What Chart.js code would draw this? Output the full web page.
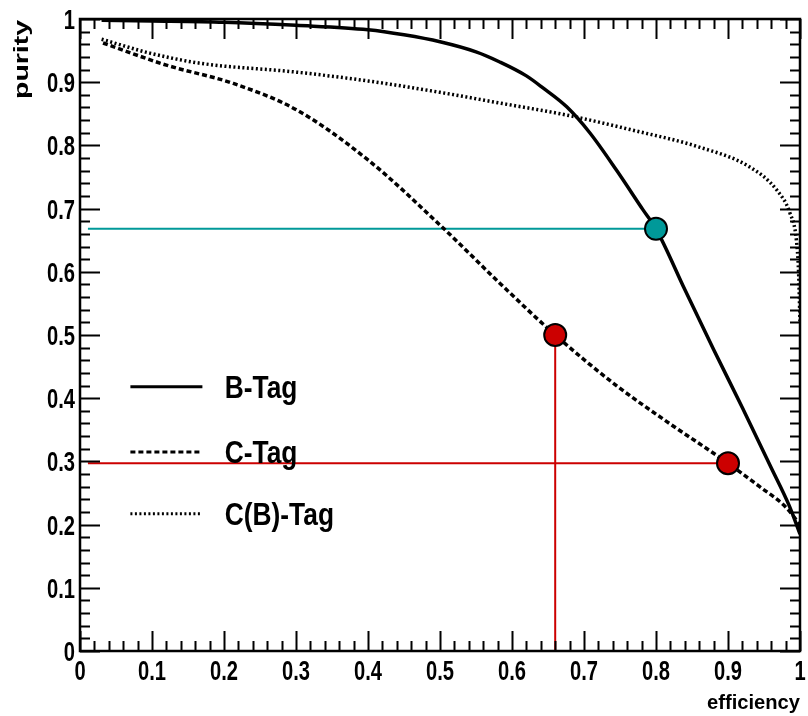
<!DOCTYPE html>
<html>
<head>
<meta charset="utf-8">
<script src="https://cdn.jsdelivr.net/npm/chart.js@4"></script>
<style>
  body { margin: 0; background: #fff; }
  canvas { display: block; }
</style>
</head>
<body>
<canvas id="myChart" width="808" height="716"></canvas>
<script>
// curves
const effB = [0.03, 0.1, 0.2, 0.3, 0.4, 0.45, 0.5, 0.55, 0.583, 0.62, 0.643, 0.676, 0.708, 0.745, 0.782, 0.8, 0.84, 0.88, 0.92, 0.96, 0.985, 1.0];
const purB = [0.998, 0.997, 0.995, 0.99, 0.983, 0.975, 0.964, 0.948, 0.932, 0.91, 0.891, 0.861, 0.82, 0.761, 0.698, 0.668, 0.572, 0.477, 0.385, 0.29, 0.23, 0.185];

const effC = [0.032, 0.12, 0.213, 0.301, 0.4, 0.5, 0.583, 0.66, 0.745, 0.815, 0.9, 0.944, 0.98, 1.0];
const purC = [0.962, 0.927, 0.898, 0.856, 0.777, 0.674, 0.582, 0.5, 0.42, 0.363, 0.297, 0.26, 0.228, 0.2];

const effCB = [0.03, 0.097, 0.167, 0.3, 0.4, 0.5, 0.583, 0.676, 0.768, 0.861, 0.93, 0.968, 0.986, 0.995, 0.998, 1.0];
const purCB = [0.968, 0.946, 0.93, 0.916, 0.902, 0.884, 0.867, 0.848, 0.824, 0.797, 0.766, 0.729, 0.693, 0.65, 0.6, 0.52];

const seriesNames = ["B-Tag", "C-Tag", "C(B)-Tag"];

// working points and guide lines
const tealPoint = { x: 0.8, y: 0.668 };
const redPoints = [{ x: 0.66, y: 0.5 }, { x: 0.9, y: 0.297 }];
const tealLineX = [0.011, 0.8], tealLineY = [0.668, 0.668];
const redLineX = [0.011, 0.9], redLineY = [0.297, 0.297];
const redVLineX = [0.66, 0.66], redVLineY = [0, 0.5];

const xTicks = [0, 0.1, 0.2, 0.3, 0.4, 0.5, 0.6, 0.7, 0.8, 0.9, 1];
const yTicks = xTicks;

const toPts = (xs, ys) => xs.map((v, i) => ({ x: v, y: ys[i] }));

const TEAL = "#009999";
const RED = "#cc0000";
const SANS = "'Liberation Sans', Arial, sans-serif";

function fmt(v) {
  if (v === 0) return "0";
  if (v === 1) return "1";
  return v.toFixed(1);
}

// squeezed text, the plot uses a condensed bold face
function squeezed(ctx, str, x, y, align, size, sx) {
  ctx.save();
  ctx.translate(x, y);
  ctx.scale(sx, 1);
  ctx.font = "bold " + size + "px " + SANS;
  ctx.textAlign = align;
  ctx.textBaseline = "alphabetic";
  ctx.fillStyle = "#000";
  ctx.fillText(str, 0, 0);
  ctx.restore();
}

// ROOT style frame with inward ticks on all four sides
const rootFrame = {
  id: "rootFrame",
  afterDatasetsDraw(chart) {
    const { ctx, chartArea: a, scales: { x, y } } = chart;
    ctx.save();
    ctx.strokeStyle = "#000";
    ctx.lineWidth = 2;
    ctx.beginPath();
    for (let i = 0; i <= 50; i++) {
      const v = i / 50;
      const len = i % 5 === 0 ? 20 : 10;
      const px = Math.round(x.getPixelForValue(v)) + 0.5;
      ctx.moveTo(px, a.bottom); ctx.lineTo(px, a.bottom - len);
      ctx.moveTo(px, a.top); ctx.lineTo(px, a.top + len);
      const py = Math.round(y.getPixelForValue(v)) + 0.5;
      ctx.moveTo(a.left, py); ctx.lineTo(a.left + len, py);
      ctx.moveTo(a.right, py); ctx.lineTo(a.right - len, py);
    }
    ctx.stroke();
    ctx.lineWidth = 2.5;
    ctx.strokeRect(a.left, a.top, a.right - a.left, a.bottom - a.top);
    ctx.restore();

    // tick labels
    xTicks.forEach(v => squeezed(ctx, fmt(v), x.getPixelForValue(v), 680, "center", 28, 0.72));
    yTicks.forEach(v => squeezed(ctx, fmt(v), 75, y.getPixelForValue(v) + 10, "right", 28, 0.72));

    // axis titles
    squeezed(ctx, "efficiency", a.right, 709, "right", 21, 0.96);
    ctx.save();
    ctx.translate(28, 20);
    ctx.rotate(-Math.PI / 2);
    ctx.scale(1.42, 1);
    ctx.font = "bold 20px " + SANS;
    ctx.textAlign = "right";
    ctx.fillStyle = "#000";
    ctx.fillText("purity", 0, 0);
    ctx.restore();

    // legend inside the frame
    ctx.save();
    const rows = [0.418, 0.315, 0.217];
    const dashes = [[], [5, 3], [2, 2.5]];
    rows.forEach((r, i) => {
      const yy = y.getPixelForValue(r);
      ctx.beginPath();
      ctx.setLineDash(dashes[i]);
      ctx.lineWidth = 3;
      ctx.strokeStyle = "#000";
      ctx.moveTo(x.getPixelForValue(0.07), yy);
      ctx.lineTo(x.getPixelForValue(0.17), yy);
      ctx.stroke();
      ctx.setLineDash([]);
      squeezed(ctx, seriesNames[i], x.getPixelForValue(0.201), yy + 11, "left", 31, 0.85);
    });
    ctx.restore();
  }
};

const ctx = document.getElementById("myChart");

new Chart(ctx, {
  type: "scatter",
  data: {
    datasets: [
      { data: [tealPoint], backgroundColor: TEAL, borderColor: "#000", borderWidth: 2, pointRadius: 11, order: 0 },
      { data: redPoints, backgroundColor: RED, borderColor: "#000", borderWidth: 2, pointRadius: 11, order: 0 },
      { label: seriesNames[0], data: toPts(effB, purB), showLine: true, borderColor: "#000", borderWidth: 3.5, pointRadius: 0, cubicInterpolationMode: "monotone", order: 1 },
      { label: seriesNames[1], data: toPts(effC, purC), showLine: true, borderColor: "#000", borderWidth: 3.5, borderDash: [5, 3], pointRadius: 0, cubicInterpolationMode: "monotone", order: 1 },
      { label: seriesNames[2], data: toPts(effCB, purCB), showLine: true, borderColor: "#000", borderWidth: 3.5, borderDash: [2, 2.5], pointRadius: 0, cubicInterpolationMode: "monotone", order: 1 },
      { data: toPts(tealLineX, tealLineY), showLine: true, borderColor: TEAL, borderWidth: 2, pointRadius: 0, order: 2 },
      { data: toPts(redLineX, redLineY), showLine: true, borderColor: RED, borderWidth: 2, pointRadius: 0, order: 2 },
      { data: toPts(redVLineX, redVLineY), showLine: true, borderColor: RED, borderWidth: 2, pointRadius: 0, order: 2 }
    ]
  },
  options: {
    responsive: false,
    animation: false,
    layout: { autoPadding: false, padding: { top: 19, right: 8, left: 0, bottom: 0 } },
    plugins: { legend: { display: false }, tooltip: { enabled: false } },
    scales: {
      x: {
        type: "linear", min: 0, max: 1,
        ticks: { display: false, stepSize: 0.1 },
        grid: { display: false, drawTicks: false },
        border: { display: false },
        afterFit: s => { s.height = 65; }
      },
      y: {
        type: "linear", min: 0, max: 1,
        ticks: { display: false, stepSize: 0.1 },
        grid: { display: false, drawTicks: false },
        border: { display: false },
        afterFit: s => { s.width = 80; }
      }
    }
  },
  plugins: [rootFrame]
});
</script>
</body>
</html>
